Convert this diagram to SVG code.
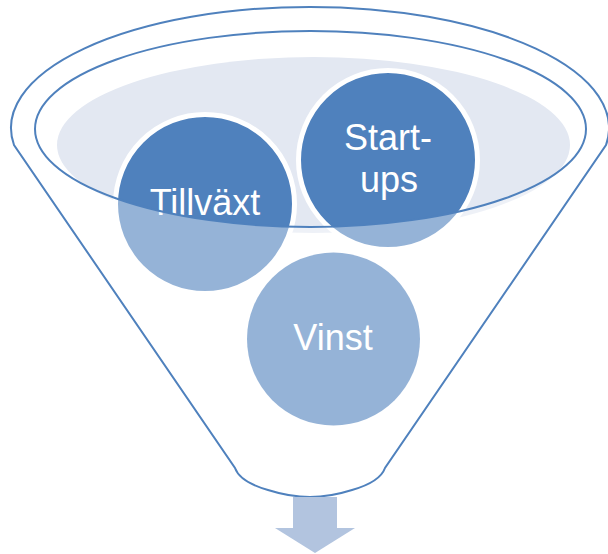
<svg xmlns="http://www.w3.org/2000/svg" width="608" height="554" viewBox="0 0 608 554">
<style>
.ring{fill:#4F81BD;stroke:#FFFFFF;stroke-width:5}
.lbl{font-family:"Liberation Sans",Arial,sans-serif;font-size:36px;fill:#FFFFFF;text-anchor:middle}
.outline{fill:none;stroke:#4F81BD;stroke-width:2}
</style>
<rect width="608" height="554" fill="#FFFFFF"/>
<ellipse id="liquid" cx="313.5" cy="145" rx="256.5" ry="88" fill="#E3E8F2"/>
<g id="node-tillvaxt">
<circle class="ring" cx="205" cy="204" r="89.5"/>
<text class="lbl" x="205" y="215">Tillväxt</text>
</g>
<g id="node-startups">
<circle class="ring" cx="388" cy="160" r="89.5"/>
<text class="lbl" x="388" y="150">Start-</text>
<text class="lbl" x="389" y="192">ups</text>
</g>
<g id="node-vinst">
<circle cx="333.5" cy="339" r="86.5" fill="#4F81BD"/>
<text class="lbl" x="333" y="350">Vinst</text>
</g>
<g id="funnel">
<path fill="#FFFFFF" fill-opacity="0.4" fill-rule="evenodd" d="M14,145 A299,121 0 1 1 606,145 L385,468 Q380,482 352,490 Q330,497 310,497 Q290,497 268,490 Q240,482 235,468 Z M35,129 A275.5,98 0 0 0 586,129 A275.5,98 0 0 0 35,129 Z"/>
<path class="outline" d="M14,145 A299,121 0 1 1 606,145 L385,468 Q380,482 352,490 Q330,497 310,497 Q290,497 268,490 Q240,482 235,468 Z"/>
<ellipse class="outline" cx="310.5" cy="129" rx="275.5" ry="98"/>
</g>
<g id="connectors">
<path id="arrow" d="M293,497 L337,497 L337,528 L355,528 L315,553 L275,528 L293,528 Z" fill="#B2C4DF"/>
</g>
</svg>
